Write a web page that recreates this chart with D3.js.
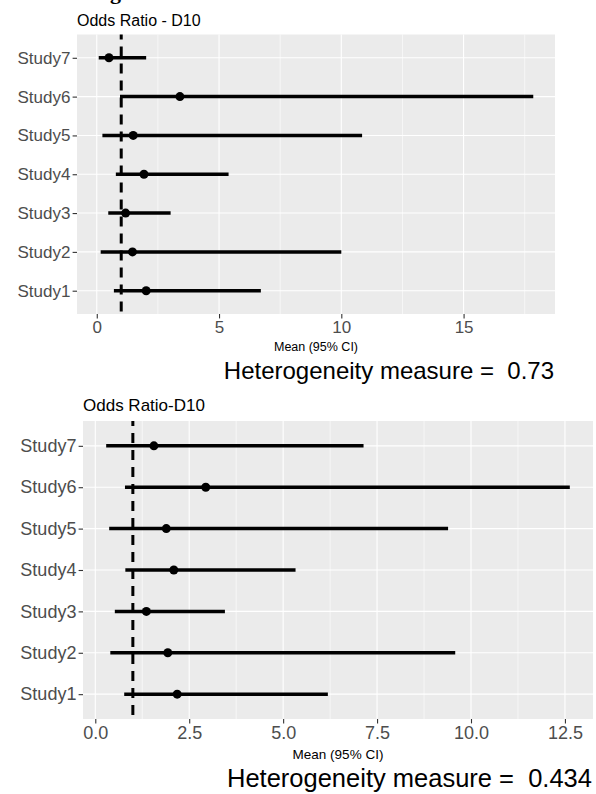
<!DOCTYPE html>
<html>
<head>
<meta charset="utf-8">
<script src="https://cdn.jsdelivr.net/npm/d3@7"></script>
<style>
  body { margin: 0; background: #fff; }
  text { font-family: "Liberation Sans", Arial, sans-serif; }
</style>
</head>
<body>
<div id="forest"></div>
<script>
// studies, bottom to top
const studies = ["Study1", "Study2", "Study3", "Study4", "Study5", "Study6", "Study7"]

// model 1 (top plot)
const p1Title = "Odds Ratio - D10"
const p1Mean  = [2.02, 1.46, 1.18, 1.93, 1.49, 3.40, 0.50]
const p1Lower = [0.70, 0.16, 0.47, 0.78, 0.23, 0.95, 0.08]
const p1Upper = [6.71, 10.0, 3.02, 5.39, 10.85, 17.85, 2.02]
const p1Ticks = [0, 5, 10, 15]
const p1Het = "0.73"

// model 2 (bottom plot)
const p2Title = "Odds Ratio-D10"
const p2Mean  = [2.18, 1.93, 1.36, 2.09, 1.89, 2.94, 1.56]
const p2Lower = [0.77, 0.40, 0.52, 0.80, 0.37, 0.79, 0.29]
const p2Upper = [6.19, 9.58, 3.45, 5.33, 9.39, 12.63, 7.14]
const p2Ticks = [0, 2.5, 5, 7.5, 10, 12.5]
const p2Het = "0.434"

const refLine = 1

const W = 596, H = 794

const svg = d3.select("#forest")
  .append("svg")
    .attr("width", W)
    .attr("height", H)

// caption of the page, cut off at the top edge (only descenders show)
svg.append("text")
  .attr("x", 88)
  .attr("y", -1.5)
  .attr("textLength", 420)
  .attr("lengthAdjust", "spacing")
  .style("font-family", "Liberation Serif, serif")
  .style("font-weight", "bold")
  .style("font-size", "22px")
  .text("Figure 2: Forest Plots of the two models")

function drawPanel(opt) {
  const data = studies.map((s, i) => ({study: s, mean: opt.mean[i], lo: opt.lower[i], hi: opt.upper[i]}))

  // ggplot style 5% expansion
  const lo = d3.min(data, d => d.lo), hi = d3.max(data, d => d.hi)
  const pad = (hi - lo) * 0.05
  const x = d3.scaleLinear()
    .domain([lo - pad, hi + pad])
    .range([opt.left, opt.right])

  const y = d3.scalePoint()
    .domain(studies)
    .range([opt.bottom, opt.top])
    .padding(0.6)

  const g = svg.append("g")

  // panel background
  g.append("rect")
    .attr("x", opt.left)
    .attr("y", opt.top)
    .attr("width", opt.right - opt.left)
    .attr("height", opt.bottom - opt.top)
    .attr("fill", "#EBEBEB")

  // minor grid
  const step = opt.ticks[1] - opt.ticks[0]
  const minor = d3.range(opt.ticks[0] - step / 2, x.domain()[1], step)
    .filter(v => v > x.domain()[0])
  g.selectAll("line.minor")
    .data(minor)
    .join("line")
      .attr("class", "minor")
      .attr("x1", d => x(d)).attr("x2", d => x(d))
      .attr("y1", opt.top).attr("y2", opt.bottom)
      .attr("stroke", "#fff")
      .attr("stroke-width", 0.6)

  // major grid
  g.selectAll("line.vmajor")
    .data(opt.ticks)
    .join("line")
      .attr("class", "vmajor")
      .attr("x1", d => x(d)).attr("x2", d => x(d))
      .attr("y1", opt.top).attr("y2", opt.bottom)
      .attr("stroke", "#fff")
      .attr("stroke-width", 1.1)

  g.selectAll("line.hmajor")
    .data(studies)
    .join("line")
      .attr("class", "hmajor")
      .attr("x1", opt.left).attr("x2", opt.right)
      .attr("y1", d => y(d)).attr("y2", d => y(d))
      .attr("stroke", "#fff")
      .attr("stroke-width", 1.1)

  // confidence intervals
  g.selectAll("line.ci")
    .data(data)
    .join("line")
      .attr("class", "ci")
      .attr("x1", d => x(d.lo)).attr("x2", d => x(d.hi))
      .attr("y1", d => y(d.study)).attr("y2", d => y(d.study))
      .attr("stroke", "#000")
      .attr("stroke-width", 3.5)

  // reference line at 1
  g.append("line")
    .attr("x1", x(refLine)).attr("x2", x(refLine))
    .attr("y1", opt.top).attr("y2", opt.bottom)
    .attr("stroke", "#000")
    .attr("stroke-width", 3)
    .attr("stroke-dasharray", "10,7")
    .attr("stroke-dashoffset", 5)

  // point estimates
  g.selectAll("circle")
    .data(data)
    .join("circle")
      .attr("cx", d => x(d.mean))
      .attr("cy", d => y(d.study))
      .attr("r", 4.5)
      .attr("fill", "#000")

  // axes
  const xAxis = g.append("g")
    .attr("transform", `translate(0,${opt.bottom})`)
    .call(d3.axisBottom(x).tickValues(opt.ticks).tickFormat(opt.fmt).tickSizeOuter(0).tickSizeInner(4.4).tickPadding(2.5))
  const yAxis = g.append("g")
    .attr("transform", `translate(${opt.left},0)`)
    .call(d3.axisLeft(y).tickSizeOuter(0).tickSizeInner(4.4).tickPadding(2.2))

  ;[xAxis, yAxis].forEach(a => {
    a.select(".domain").remove()
    a.selectAll(".tick line").attr("stroke", "#333").attr("stroke-width", 1.1)
    a.selectAll(".tick text")
      .attr("fill", "#4D4D4D")
      .style("font-family", "Liberation Sans, Arial, sans-serif")
      .style("font-size", opt.axisFont + "px")
  })

  // title
  svg.append("text")
    .attr("x", opt.left)
    .attr("y", opt.titleY)
    .style("font-size", opt.titleFont + "px")
    .text(opt.title)

  // x label
  svg.append("text")
    .attr("x", (opt.left + opt.right) / 2)
    .attr("y", opt.xlabY)
    .attr("text-anchor", "middle")
    .style("font-size", opt.xlabFont + "px")
    .text("Mean (95% CI)")

  // heterogeneity note
  svg.append("text")
    .attr("x", opt.hetX)
    .attr("y", opt.hetY)
    .attr("text-anchor", "end")
    .style("font-size", opt.hetFont + "px")
    .style("white-space", "pre")
    .text("Heterogeneity measure =  " + opt.het)
}

drawPanel({
  mean: p1Mean, lower: p1Lower, upper: p1Upper, ticks: p1Ticks, fmt: d3.format("d"),
  title: p1Title, het: p1Het,
  left: 77, right: 555, top: 34.5, bottom: 314,
  axisFont: 17, titleFont: 16, titleY: 26, xlabFont: 12.5, xlabY: 351,
  hetFont: 24, hetX: 554, hetY: 379
})

drawPanel({
  mean: p2Mean, lower: p2Lower, upper: p2Upper, ticks: p2Ticks, fmt: d3.format(".1f"),
  title: p2Title, het: p2Het,
  left: 83, right: 593, top: 421, bottom: 719,
  axisFont: 18, titleFont: 17, titleY: 411, xlabFont: 13.5, xlabY: 759,
  hetFont: 25.5, hetX: 592, hetY: 787
})
</script>
</body>
</html>
